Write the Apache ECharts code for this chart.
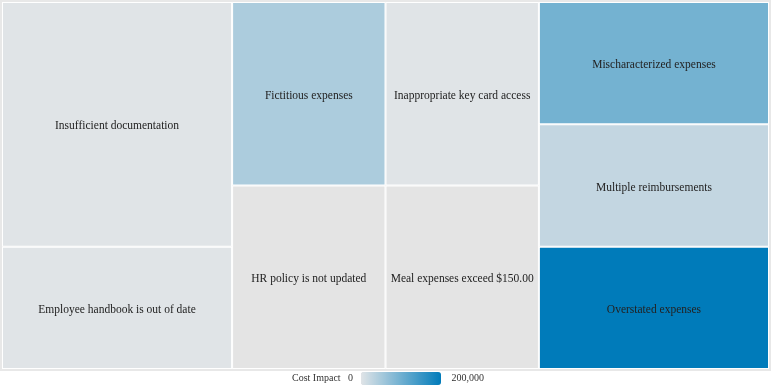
<!DOCTYPE html>
<html>
<head>
<meta charset="utf-8">
<script src="https://cdn.jsdelivr.net/npm/echarts@6/dist/echarts.min.js"></script>
<style>
html,body{margin:0;padding:0;background:#fff;}
#chart{width:771px;height:389px;}
</style>
</head>
<body>
<div id="chart"></div>
<script>
// Data (in layout order)
const categories = [
  'Insufficient documentation',
  'Employee handbook is out of date',
  'Fictitious expenses',
  'HR policy is not updated',
  'Inappropriate key card access',
  'Meal expenses exceed $150.00',
  'Mischaracterized expenses',
  'Multiple reimbursements',
  'Overstated expenses'
];
const counts = [2, 1, 1, 1, 1, 1, 1, 1, 1];
const costImpact = [0, 0, 46000, null, 0, null, 96000, 26000, 200000];
const legendTicks = ['0', '200,000'];
const legendTitle = 'Cost Impact';

const FONT = '"Liberation Serif", "DejaVu Serif", serif';

const data = categories.map((name, i) => {
  const item = { name: name, value: [counts[i], costImpact[i] == null ? 0 : costImpact[i]] };
  if (costImpact[i] == null) item.itemStyle = { color: '#e4e4e4' };
  return item;
});

const chart = echarts.init(document.getElementById('chart'), null, { renderer: 'canvas' });
chart.setOption({
  animation: false,
  backgroundColor: '#fff',
  title: {
    text: legendTitle,
    left: 292,
    top: 373,
    textStyle: { fontFamily: FONT, fontSize: 10, fontWeight: 'normal', color: '#333' },
    padding: 0
  },
  visualMap: {
    type: 'continuous',
    orient: 'horizontal',
    min: 0,
    max: 200000,
    dimension: 1,
    seriesIndex: 0,
    left: 348,
    top: 372,
    itemWidth: 13,
    itemHeight: 80,
    calculable: false,
    realtime: false,
    text: [' ' + legendTicks[1], legendTicks[0]],
    textGap: 8,
    textStyle: { fontFamily: FONT, fontSize: 10, color: '#333' },
    inRange: { color: ['#e0e4e7', '#007bba'] },
    padding: 0
  },
  series: [{
    type: 'treemap',
    left: 0,
    top: 0,
    right: 0,
    bottom: 18,
    roam: false,
    nodeClick: false,
    breadcrumb: { show: false },
    sort: false,
    squareRatio: 1,
    label: {
      show: true,
      position: 'inside',
      align: 'center',
      verticalAlign: 'middle',
      offset: [0, 2],
      fontFamily: FONT,
      fontSize: 11.5,
      color: '#222',
      overflow: 'none',
      padding: 0,
      formatter: '{b}'
    },
    upperLabel: { show: false },
    levels: [
      { itemStyle: { borderColor: '#e8e8e8', borderWidth: 2, gapWidth: 0 } },
      { itemStyle: { borderColor: '#ffffff', borderWidth: 1, gapWidth: 0 } }
    ],
    data: data
  }]
});
</script>
</body>
</html>
